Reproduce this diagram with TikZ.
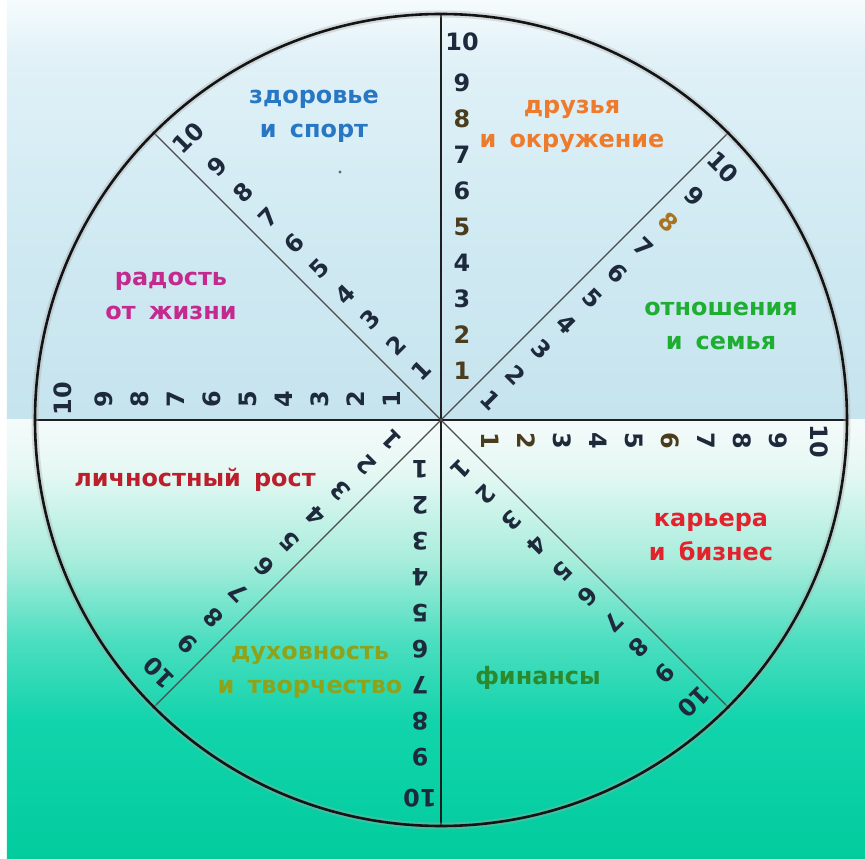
\documentclass[tikz,border=0pt]{standalone}
\usepackage{fontspec}
\newfontfamily\digitfont{DejaVu Sans}
\newfontfamily\labelfont{DejaVu Sans}
\definecolor{tb1}{HTML}{F6FBFD}
\definecolor{tb2}{HTML}{E0F1F7}
\definecolor{tb3}{HTML}{CFE9F2}
\definecolor{tb4}{HTML}{C6E4EE}
\definecolor{bb1}{HTML}{F4FBFA}
\definecolor{bb2}{HTML}{E6F8F4}
\definecolor{bb3}{HTML}{A8EDDC}
\definecolor{bb4}{HTML}{4CDEC0}
\definecolor{bb5}{HTML}{12D4AC}
\definecolor{bb6}{HTML}{02CC9E}
\definecolor{digc}{HTML}{1E2A3C}
\definecolor{digb}{HTML}{4A3C1C}
\definecolor{digo}{HTML}{A87424}
\definecolor{blueL}{HTML}{2777C4}
\definecolor{orangeL}{HTML}{EE7A2C}
\definecolor{magL}{HTML}{C42A8E}
\definecolor{greenL}{HTML}{1FAE32}
\definecolor{redA}{HTML}{BC1E2C}
\definecolor{redB}{HTML}{E2222C}
\definecolor{oliveL}{HTML}{8EA31C}
\definecolor{dgreenL}{HTML}{2B8A2E}
\pgfdeclareverticalshading{topbg}{100bp}{color(0bp)=(tb4); color(25bp)=(tb4); color(45.2bp)=(tb3); color(67.9bp)=(tb2); color(75bp)=(tb1); color(100bp)=(tb1)}
\pgfdeclareverticalshading{botbg}{100bp}{color(0bp)=(bb6); color(25bp)=(bb6); color(40.8bp)=(bb5); color(49.9bp)=(bb4); color(59bp)=(bb3); color(69.3bp)=(bb2); color(75bp)=(bb1); color(100bp)=(bb1)}
\tikzset{
  num/.style={inner sep=0pt, text=digc, font=\digitfont\bfseries\fontsize{24}{24}\selectfont},
  lbl/.style={inner sep=0pt, align=center, font=\labelfont\bfseries\fontsize{24}{34}\selectfont,
    execute at begin node={\spaceskip=0.55em\relax}},
  mainspoke/.style={line width=2.4, black!88},
  diagspoke/.style={line width=1.1, black!70},
  dig90-1/.style={text=digb}, dig90-2/.style={text=digb}, dig90-5/.style={text=digb}, dig90-8/.style={text=digb},
  dig45-8/.style={text=digo},
  dig0-1/.style={text=digb}, dig0-2/.style={text=digb}, dig0-6/.style={text=digb}
}
\begin{document}
\begin{tikzpicture}[x=1bp,y=1bp]
\useasboundingbox (-441,-439) rectangle (424,420);
\fill[white] (-441,-439) rectangle (424,420);
\shade[shading=topbg] (-434,0) rectangle (424,420);
\shade[shading=botbg] (-434,-439) rectangle (424,0);
\coordinate (C) at (0,0);
\foreach \a in {90,45,0,-45,-90,-135,180,135} \coordinate (e\a) at (\a:406);
\draw[mainspoke] (C) -- (e90);
\draw[mainspoke] (C) -- (e-90);
\draw[mainspoke] (C) -- (e0);
\draw[mainspoke] (C) -- (e180);
\draw[diagspoke] (C) -- (e45);
\draw[diagspoke] (C) -- (e-45);
\draw[diagspoke] (C) -- (e135);
\draw[diagspoke] (C) -- (e-135);
\draw[gray!70, opacity=0.35, line width=7] (C) circle (406);
\draw[line width=2.6, black!92] (C) circle (406);
\foreach \a in {90,45,0,-45,-90,-135,180,135} {
  \foreach \k in {1,...,10} {
    \pgfmathsetmacro\dd{49+36*(\k-1)+(\k==10)*5}
    \node[num, dig\a-\k/.try, rotate=\a-90] (n\a-\k)
      at ({\dd*cos(\a)+21*cos(\a-90)}, {\dd*sin(\a)+21*sin(\a-90)}) {\k};
  }
}
\node[lbl, text=blueL] (health) at (-127,304) {здоровье\\и спорт};
\node[circle, fill=black!60, inner sep=1.1pt] (dot) at (-101,248) {};
\node[lbl, text=orangeL] (friends) at (131,294) {друзья\\и окружение};
\node[lbl, text=magL] (joy) at (-270,124) {радость\\от жизни};
\node[lbl, text=greenL] (family) at (280,94) {отношения\\и семья};
\node[lbl, text=redA] (growth) at (-246,-60) {личностный рост};
\node[lbl, text=redB] (career) at (270,-117) {карьера\\и бизнес};
\node[lbl, text=oliveL] (spirit) at (-131,-252) {духовность\\и творчество};
\node[lbl, text=dgreenL] (money) at (97,-258) {финансы};
\end{tikzpicture}
\end{document}
